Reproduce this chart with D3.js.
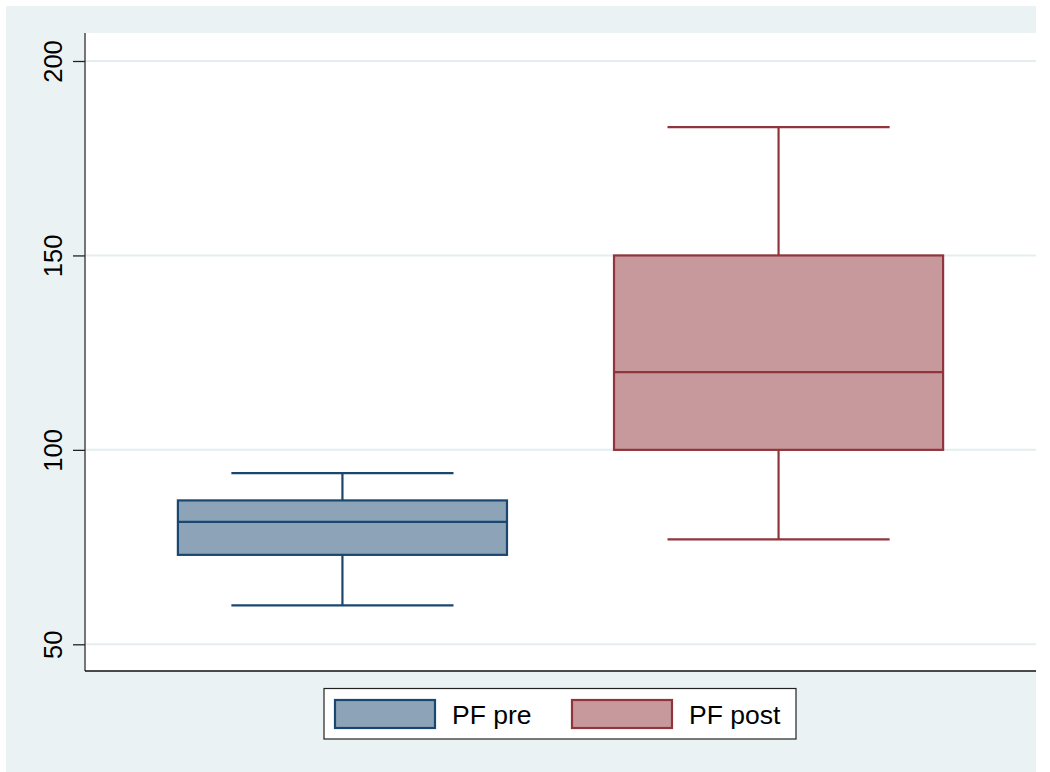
<!DOCTYPE html>
<html>
<head>
<meta charset="utf-8">
<script src="https://cdn.jsdelivr.net/npm/d3@7"></script>
<style>
html,body{margin:0;padding:0;background:#fff;overflow:hidden;}
svg{display:block;font-family:"Liberation Sans",Arial,sans-serif;}
</style>
</head>
<body>
<svg id="chart" width="1050" height="772"></svg>
<script>
// ---- data ----
const categories = ["PF pre", "PF post"];
const whiskerLow = [60, 77];
const q1 = [73, 100];
const median = [81.5, 120];
const q3 = [87, 150];
const whiskerHigh = [94, 183];
const yTicks = [50, 100, 150, 200];
const fills = ["#8DA4B8", "#C7999C"];
const strokes = ["#1A476F", "#90353B"];

const svg = d3.select("#chart");
const W = 1050, H = 772;
const bgColor = "#EAF2F3";

// outer region
svg.append("rect").attr("x", 6).attr("y", 6).attr("width", 1030).attr("height", H - 6).attr("fill", bgColor);

const plot = {left: 85, top: 33, right: 1036, bottom: 671};
svg.append("rect").attr("x", plot.left).attr("y", plot.top)
  .attr("width", plot.right - plot.left).attr("height", plot.bottom - plot.top).attr("fill", "#fff");

const y = d3.scaleLinear().domain([50, 200]).range([644.3, 61]);
const x = d3.scaleBand().domain(categories).range([plot.left, plot.right])
  .paddingInner(0.2454).paddingOuter(0.213);

// grid
svg.append("g").selectAll("line").data(yTicks).join("line")
  .attr("x1", plot.left).attr("x2", plot.right)
  .attr("y1", d => y(d)).attr("y2", d => y(d))
  .attr("stroke", "#E4EEF0").attr("stroke-width", 2);

// y axis
const yAxis = d3.axisLeft(y).tickValues(yTicks).tickSize(12).tickPadding(10).tickFormat(d3.format("d"));
const gy = svg.append("g").attr("transform", `translate(${plot.left},0)`).call(yAxis);
gy.select(".domain").attr("d", `M0,${plot.top}V${plot.bottom}`).attr("stroke", "#555").attr("stroke-width", 1.6);
gy.selectAll(".tick line").attr("stroke", "#222").attr("stroke-width", 1.3);
gy.selectAll(".tick text")
  .attr("font-size", 25.5).attr("fill", "#000").attr("font-family", "Liberation Sans, Arial, sans-serif")
  .attr("text-anchor", "middle").attr("dy", null)
  .attr("x", 0).attr("y", -23).attr("transform", "rotate(-90)");

// x axis line
svg.append("line").attr("x1", plot.left).attr("x2", plot.right)
  .attr("y1", plot.bottom).attr("y2", plot.bottom).attr("stroke", "#111").attr("stroke-width", 1.6);

// boxes
const bw = x.bandwidth();
const capW = bw * 0.675;
const boxes = svg.append("g").selectAll("g").data(categories).join("g");
boxes.each(function(c, i){
  const g = d3.select(this);
  const cx = x(c) + bw / 2;
  const col = strokes[i];
  g.append("line").attr("x1", cx).attr("x2", cx).attr("y1", y(whiskerHigh[i])).attr("y2", y(q3[i]))
    .attr("stroke", col).attr("stroke-width", 2.2);
  g.append("line").attr("x1", cx).attr("x2", cx).attr("y1", y(q1[i])).attr("y2", y(whiskerLow[i]))
    .attr("stroke", col).attr("stroke-width", 2.2);
  g.append("line").attr("x1", cx - capW / 2).attr("x2", cx + capW / 2)
    .attr("y1", y(whiskerHigh[i])).attr("y2", y(whiskerHigh[i])).attr("stroke", col).attr("stroke-width", 2.2);
  g.append("line").attr("x1", cx - capW / 2).attr("x2", cx + capW / 2)
    .attr("y1", y(whiskerLow[i])).attr("y2", y(whiskerLow[i])).attr("stroke", col).attr("stroke-width", 2.2);
  g.append("rect").attr("x", x(c)).attr("width", bw)
    .attr("y", y(q3[i])).attr("height", y(q1[i]) - y(q3[i]))
    .attr("fill", fills[i]).attr("stroke", col).attr("stroke-width", 2.2);
  g.append("line").attr("x1", x(c)).attr("x2", x(c) + bw)
    .attr("y1", y(median[i])).attr("y2", y(median[i])).attr("stroke", col).attr("stroke-width", 2.2);
});

// legend
const leg = svg.append("g");
leg.append("rect").attr("x", 324).attr("y", 688.5).attr("width", 472).attr("height", 50.5)
  .attr("fill", "#fff").attr("stroke", "#222").attr("stroke-width", 1.2);
const legX = [335, 572];
categories.forEach((c, i) => {
  leg.append("rect").attr("x", legX[i]).attr("y", 700).attr("width", 100).attr("height", 28)
    .attr("fill", fills[i]).attr("stroke", strokes[i]).attr("stroke-width", 2.2);
  leg.append("text").attr("x", legX[i] + 117).attr("y", 724).attr("font-size", 26.5)
    .attr("fill", "#000").text(c);
});
</script>
</body>
</html>
